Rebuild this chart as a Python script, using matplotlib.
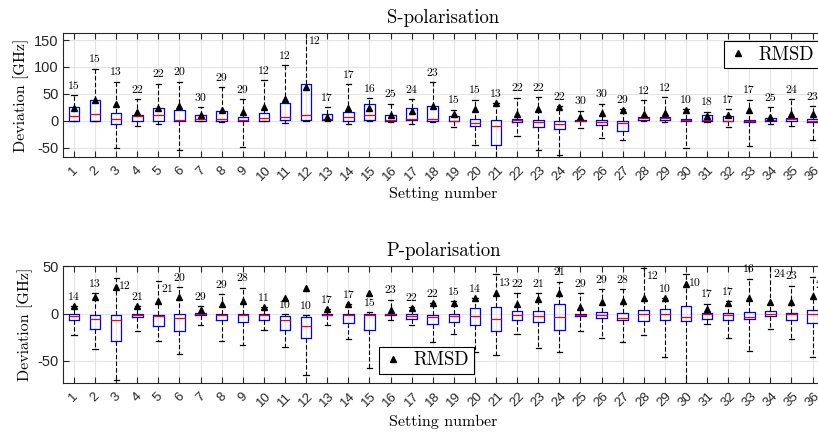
import matplotlib
matplotlib.use("Agg")
import matplotlib.pyplot as plt
import matplotlib.transforms as mtransforms
from matplotlib.lines import Line2D

plt.rcParams['axes.unicode_minus'] = False

settings = list(range(1, 37))

# S-polarisation (GHz)
s_q1 = [0, 0, -5, 0, 0, -1, 0, -1, -1, 0, 1, 2.5, 1, 0, 1, 0, 1, 0,
        -1, -8.6, -44, -2.5, -11, -16, -1, -7, -18, 1, 1, -1, 0, 0, -2.5, 0, 0, -2.5]
s_med = [8.6, 13.6, 3, 8.6, 11, 2.5, 4, 4, 1, 6, 7, 10.5, 4, 7.4, 10, 2.5, 4, 4,
         0, -3.7, -9, 1, -3, -5, 0.5, -2, -3.7, 5, 5, 1, 2.5, 0.5, -0.5, 2.5, 3, 0.5]
s_q3 = [26, 38, 15, 10.5, 23, 20, 10.5, 18, 7.4, 15, 33, 69, 13.5, 17, 31, 10, 23, 27,
        8.6, 3, 1, 3, 1, 0, 2.5, 1, 0, 7.4, 7.4, 3, 10, 8.6, 1, 5, 6, 3]
s_wlo = [0, -1, -51, -8.6, -5, -54, 0, -3, -49, 0, -4, -1, 0, -5, 0, -2.5, -5, -2,
         -11, -45, -68, -28, -54, -63, -13, -32, -36, 0, -2, -50, -2.5, -11, -47, -5, -8.6, -36]
s_whi = [47.5, 97, 73, 41, 69, 73, 26, 63, 40, 75, 104, 175, 26, 68, 42.5, 32, 41, 72,
         21, 39.5, 33, 43, 44, 27, 19, 32, 22, 38, 44, 22, 17, 21.6, 39.5, 26, 40.7, 28]
s_rmsd = [24, 38, 31, 16, 24, 27, 11, 21, 17, 26, 41, 63, 7.4, 23, 23, 11, 18, 27,
          12, 22, 33, 13.6, 21.6, 26, 8, 15, 21, 13.6, 15, 20, 8.6, 11, 21, 7.4, 12, 13.6]
s_count = [15, 15, 13, 22, 22, 20, 30, 29, 29, 12, 12, 12, 17, 17, 16, 25, 24, 23,
           15, 15, 13, 22, 22, 22, 30, 30, 29, 12, 12, 10, 18, 17, 17, 25, 24, 23]
s_side = [12]

# P-polarisation
p_q1 = [-6.3, -16.5, -29, -4, -12.7, -19, -1.8, -7, -9, -7, -17.6, -26, -2, -9.5, -17.6, -1, -5.3, -10.6,
        -8.5, -11.6, -18.7, -6.3, -9, -17, -2.8, -5, -7, -8, -7, -7.7, -5.3, -7, -6, -2.5, -7, -10]
p_med = [-2.5, -6, -6.3, -1, -2.8, -4.6, -0.7, -1.8, -1, -2, -6.3, -12.7, -1, -1, -1.4, -0.3, -2.8, -3.9,
         -2.8, -2.8, -6, -1.4, -2.8, -3.5, -1.4, -1.4, -5, 0, -0.7, -3.5, -0.7, -1, -3.5, 0, -0.3, -0.7]
p_q3 = [0, -1, -1.8, 0, -1, -0.7, 0.3, -0.3, -0.3, -0.3, -2.8, -3.5, 0, -0.3, -0.7, 0, -0.7, -1,
        -0.7, 6, 7.4, 2.8, 2.8, 10, 0, 2, 1, 4, 5.3, 8, 1, 0.7, 1.4, 2.5, 1, 4]
p_wlo = [-23, -38, -70, -19, -29, -43, -12, -29, -33, -17.6, -35, -65, -11.6, -27, -58, -7, -12.3, -30,
         -22, -40.5, -44, -22, -36, -41, -18, -26.4, -30, -23, -46, -80, -10.6, -25.7, -39.4, -16, -27, -46.5]
p_whi = [7.7, 22, 37.7, 7.7, 34.5, 28, 8, 21, 27.5, 7, -0.3, -1.4, 5, 10, 1.4, 14.8, 7, 11,
         13, 16.5, 41.5, 22, 22, 34, 22, 26, 26, 48.6, 16.5, 41.5, 10.6, 13, 37, 55, 29.6, 38.7]
p_rmsd = [7.7, 17.6, 28, 7.7, 13.4, 17.6, 4, 10, 13.4, 7, 17, 27.5, 4.6, 10.5, 22, 4, 6, 11,
          11, 16.5, 22, 10, 15, 22, 7, 12, 13.4, 16, 16.5, 31.7, 5.3, 11, 16, 12.3, 12.3, 19]
p_count = [14, 13, 12, 21, 21, 20, 29, 29, 28, 11, 10, 10, 17, 17, 15, 23, 22, 22,
           15, 14, 13, 22, 21, 21, 29, 29, 28, 12, 10, 10, 17, 17, 16, 24, 23, 21]
p_side = [3, 5, 21, 28, 30, 34, 36]

SERIF = 'cmr10'
SANS = 'Liberation Sans'
DARK = '#262626'


def panel(ax, title, q1, med, q3, wlo, whi, rmsd, count, side, ylim, yticks):
    stats = []
    for i in range(len(settings)):
        stats.append(dict(q1=q1[i], med=med[i], q3=q3[i],
                          whislo=wlo[i], whishi=whi[i], fliers=[]))
    ax.bxp(stats, positions=settings, widths=0.5, showfliers=False, capwidths=0.25,
           boxprops=dict(color='blue', lw=0.9),
           medianprops=dict(color='red', lw=0.9),
           whiskerprops=dict(color='black', lw=0.8, ls=(0, (4, 2))),
           capprops=dict(color='black', lw=0.9))
    ax.plot(settings, rmsd, '^', color='black', ms=4.5, ls='none', zorder=4)

    for x, top, n in zip(settings, whi, count):
        if x in side:
            ax.annotate(str(n), (x, min(top, ylim[1])), xytext=(2, -6),
                        textcoords='offset points', ha='left', va='center',
                        family=SERIF, fontsize=8.5, annotation_clip=False)
        else:
            ax.annotate(str(n), (x, top), xytext=(0, 6.5),
                        textcoords='offset points', ha='center', va='center',
                        family=SERIF, fontsize=8.5, annotation_clip=False)

    ax.set_xlim(0.48, 36.54)
    ax.set_ylim(*ylim)
    ax.set_xticks(settings)
    ax.set_xticklabels([str(s) for s in settings], rotation=45, ha='center',
                       family=SANS, fontsize=9.5)
    shift = mtransforms.ScaledTranslation(3 / 100, 0, fig.dpi_scale_trans)
    for lab in ax.get_xticklabels():
        lab.set_transform(lab.get_transform() + shift)
    ax.set_yticks(yticks)
    for lab in ax.get_yticklabels():
        lab.set_family(SANS)
        lab.set_fontsize(10.5)
    ax.tick_params(direction='in', top=True, right=True, length=4.3, width=0.8,
                   color=DARK, labelcolor=DARK, pad=3)
    ax.tick_params(axis='x', pad=5)
    ax.grid(True, color='#e4e4e4', lw=0.8)
    ax.set_axisbelow(True)
    for sp in ax.spines.values():
        sp.set_color(DARK)
        sp.set_linewidth(0.8)

    ax.set_title(title, family=SERIF, fontsize=13.5, pad=7)
    ax.set_xlabel('Setting number', family=SERIF, fontsize=11.5)
    ax.set_ylabel('Deviation [GHz]', family=SERIF, fontsize=11.5)


fig = plt.figure(figsize=(8.18, 4.32), dpi=100)
ax1 = fig.add_axes([0.077, 0.6366, 0.9303, 0.287])
ax2 = fig.add_axes([0.077, 0.1127, 0.9303, 0.2716])

panel(ax1, 'S-polarisation', s_q1, s_med, s_q3, s_wlo, s_whi, s_rmsd, s_count,
      s_side, (-67, 163), [-50, 0, 50, 100, 150])
panel(ax2, 'P-polarisation', p_q1, p_med, p_q3, p_wlo, p_whi, p_rmsd, p_count,
      p_side, (-74, 50.5), [-50, 0, 50])

ax1.xaxis.set_label_coords(0.5, -0.24)
ax2.xaxis.set_label_coords(0.5, -0.265)
ax1.yaxis.set_label_coords(-0.045, 0.5)
ax2.yaxis.set_label_coords(-0.04, 0.5)

handle = Line2D([], [], marker='^', color='black', ls='none', ms=4.5)
leg_kw = dict(prop=dict(family=SERIF, size=13.5), frameon=True, fancybox=False,
              edgecolor='black', framealpha=1, handlelength=1, handletextpad=0.6,
              borderpad=0.25, borderaxespad=0, bbox_transform=fig.transFigure)
l1 = ax1.legend([handle], ['RMSD'], loc='upper right',
                bbox_to_anchor=(819 / 818, 1 - 41 / 432), **leg_kw)
l1.get_frame().set_linewidth(0.8)
l2 = ax2.legend([handle], ['RMSD'], loc='lower left',
                bbox_to_anchor=(379 / 818, 1 - 374 / 432), **leg_kw)
l2.get_frame().set_linewidth(0.8)

fig.savefig('out.png', dpi=100)
